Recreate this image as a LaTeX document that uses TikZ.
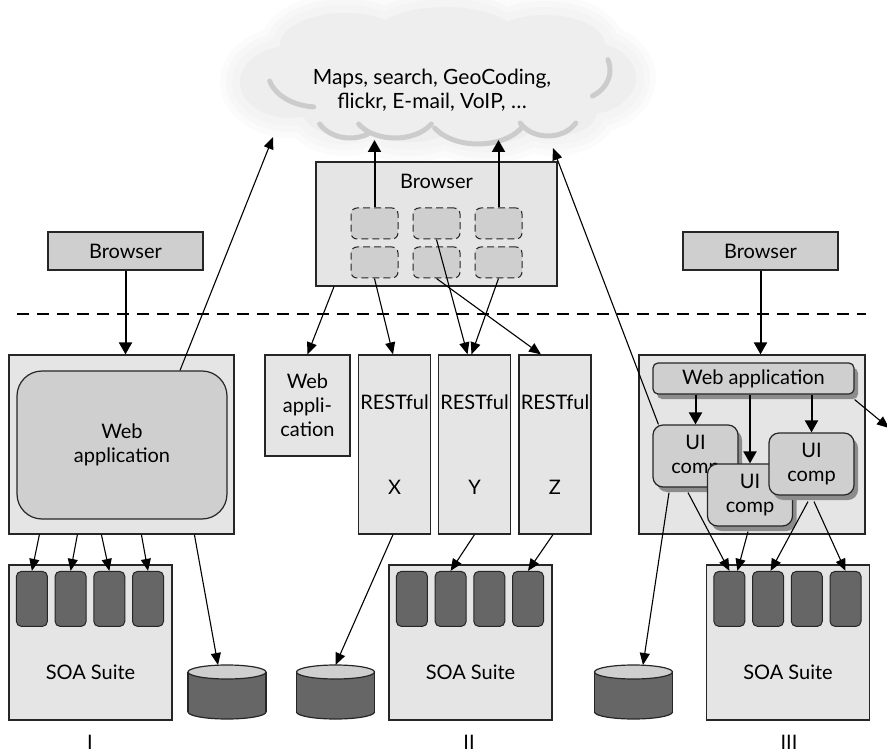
\documentclass[tikz,border=0pt]{standalone}
\usepackage{fontspec}
\setmainfont{Lato}
\usetikzlibrary{arrows.meta,shadows,calc}

\definecolor{paneGray}{gray}{0.9}
\definecolor{boxGray}{gray}{0.81}
\definecolor{darkGray}{gray}{0.4}
\definecolor{shadeGray}{gray}{0.55}
\definecolor{crescentGray}{gray}{0.8}

\tikzset{
  pane/.style={draw=black!85,fill=paneGray,line width=1.2pt,inner sep=0pt},
  box/.style={draw=black!85,fill=boxGray,line width=1.2pt,inner sep=0pt},
  slot/.style={draw=black!85,fill=darkGray,rounded corners=5pt,line width=1pt,minimum width=31pt,minimum height=55pt,inner sep=0pt},
  widget/.style={draw=black!85,fill=boxGray,rounded corners=6pt,line width=1pt,dash pattern=on 7pt off 4pt,minimum width=47pt,minimum height=31pt,inner sep=0pt},
  uicomp/.style={box,rounded corners=10pt,minimum width=85pt,minimum height=62pt,align=center,drop shadow={shadow xshift=4pt,shadow yshift=-5pt,fill=shadeGray,opacity=1}},
  link/.style={line width=1.1pt,-{Triangle[length=12pt,width=10pt]}},
  flow/.style={line width=2pt,-{Triangle[length=12pt,width=13pt]}},
}

\def\lobes{437/80/175/50,290/82/50/36,588/78/48/36,345/45/65/32,445/35/70/28,545/45/60/30,345/112/42/24,410/118/50/24,485/118/55/26,555/112/42/24}

\begin{document}
\begin{tikzpicture}[x=1pt,y=-1pt,font=\fontsize{20}{24}\selectfont]
  \useasboundingbox (0,0) rectangle (887,754);

  % cloud
  \foreach \grow/\tone in {20/1.5,14/3,8/4.5,0/6.5}{
    \foreach \cx/\cy/\rx/\ry in \lobes{
      \fill[black!\tone] (\cx,\cy) ellipse [x radius=\rx+\grow,y radius=\ry+\grow];
    }
  }
  \foreach \cx/\cy/\rx/\ry/\a/\b in {318/72/50/35/95/165,350/110/35/28/60/150,395/110/42/28/30/150,478/112/50/32/30/150,548/110/32/26/30/150,575/70/35/30/-20/60}{
    \draw[crescentGray,line width=5pt,line cap=round] plot[domain=\a:\b,samples=20,smooth] ({\cx+\rx*cos(\x)},{\cy+\ry*sin(\x)});
  }
  \node[font=\fontsize{21}{24}\selectfont,align=center] (net) at (432,90) {Maps, search, GeoCoding,\\flickr, E-mail, VoIP, …};
  \coordinate (inA) at ([shift={(-159,47)}]net.center);
  \coordinate (inB) at ([shift={(-58,50)}]net.center);
  \coordinate (inD) at ([shift={(121,58)}]net.center);
  \coordinate (offR) at (889,428);

  \draw[line width=1.2pt,dash pattern=on 12pt off 8pt] (17,314) -- (866,314);

  % browsers
  \node[box,minimum width=155pt,minimum height=38pt] (browserI) at (125.5,251) {Browser};
  \node[box,minimum width=155pt,minimum height=38pt] (browserIII) at (760.5,251) {Browser};
  \node[pane,minimum width=241pt,minimum height=124pt] (browserII) at (436.5,224) {};
  \node (browserIItext) at ([yshift=-20pt]browserII.north) {Browser};
  \foreach \c/\x in {1/374.5,2/436.5,3/498.5}{
    \foreach \r/\y in {1/223.5,2/262.5}{
      \node[widget] (w\c\r) at (\x,\y) {};
    }
  }

  % I
  \node[pane,minimum width=225pt,minimum height=179pt] (paneI) at (121.5,444.5) {};
  \node[box,rounded corners=25pt,minimum width=210pt,minimum height=148pt,align=center] (webI) at (122,445) {Web\\application};

  % II
  \node[pane,minimum width=85pt,minimum height=101pt,align=center] (webII) at (307.5,405.5) {Web\\appli-\\cation};
  \foreach \n/\x in {X/394.5,Y/474.5,Z/555}{
    \node[pane,minimum width=72pt,minimum height=179pt,align=center] (rest\n) at (\x,444.5) {RESTful\\[61pt]\n};
  }

  % III
  \node[pane,minimum width=226pt,minimum height=179pt] (paneIII) at (752,444.5) {};
  \node[box,rounded corners=5pt,minimum width=201pt,minimum height=31pt,drop shadow={shadow xshift=4pt,shadow yshift=-5pt,fill=shadeGray,opacity=1}] (webIII) at (753.5,378.5) {Web application};
  \node[uicomp] (ui1) at (695.5,456) {UI\\comp};
  \node[uicomp] (ui2) at (750,495) {UI\\comp};
  \node[uicomp] (ui3) at (811.5,464) {UI\\comp};

  % back ends
  \foreach \s/\x/\t in {I/90.5/90,II/470.5/469,III/788/789}{
    \node[pane,minimum width=163pt,minimum height=155pt] (soa\s) at (\x,642.5) {};
    \node (soa\s text) at ([yshift=-30pt]soa\s.center) {SOA Suite};
    \foreach \k in {1,...,4}{
      \node[slot] (slot\s\k) at ($(soa\s.north west)+({23.5+38.7*(\k-1)},34.5)$) {};
    }
    \node[inner sep=0pt] (tag\s) at (\t,742) {\s};
  }
  \foreach \d/\x in {I/227,II/335.5,III/633.5}{
    \draw[line width=1.2pt,draw=black!85,fill=darkGray] (\x,712) ellipse [x radius=39,y radius=7];
    \fill[darkGray] (\x-39,672) rectangle (\x+39,712);
    \draw[line width=1.2pt,draw=black!85] (\x-39,672) -- (\x-39,712) (\x+39,672) -- (\x+39,712);
    \draw[line width=1.2pt,draw=black!85,fill=boxGray] (\x,672) ellipse [x radius=39,y radius=7];
    \coordinate (db\d) at (\x,665);
  }

  % connectors
  \draw[flow] (browserI.south) -- (browserI.south |- paneI.north);
  \draw[flow] (browserIII.south) -- (browserIII.south |- paneIII.north);
  \draw[flow] (w11.north) -- (w11.north |- inB);
  \draw[flow] (w31.north) -- (w31.north |- inB);
  \draw[link] ([xshift=58pt]webI.north) -- (inA);
  \draw[link] ([xshift=6pt]ui1.north west) -- (inD);

  \foreach \a/\k in {31/1,69/2,93/3,133/4}{
    \draw[link] ([xshift=\a pt]paneI.south west) -- (slotI\k.north);
  }
  \draw[link] ([xshift=186pt]paneI.south west) -- ([xshift=-9pt]dbI);

  \draw[link] ([xshift=-102.5pt]browserII.south) -- (webII.north);
  \draw[link] (w12.south) -- ([xshift=-1.5pt]restX.north);
  \draw[link] (w21.south) -- ([xshift=-7pt]restY.north);
  \draw[link] (w32.south) -- ([xshift=-3pt]restY.north);
  \draw[link] (w22.south) -- ([xshift=-14pt]restZ.north);
  \draw[link] ([xshift=-1.5pt]restX.south) -- (dbII);
  \draw[link] (restY.south) -- (slotII2.north);
  \draw[link] ([xshift=-2pt]restZ.south) -- (slotII4.north);

  \draw[flow] (ui1.north |- webIII.south) -- (ui1.north);
  \draw[flow] (ui2.north |- webIII.south) -- (ui2.north);
  \draw[flow] (ui3.north |- webIII.south) -- (ui3.north);
  \draw[link] ([yshift=-5pt]webIII.south east) -- (offR);
  \draw[link] ([xshift=-26.5pt,yshift=-5pt]ui1.south) -- ([xshift=9.5pt]dbIII);
  \draw[link] ([xshift=-7.5pt,yshift=-5pt]ui1.south) -- (slotIII1.north);
  \draw[link] ([xshift=-2pt,yshift=-5pt]ui2.south) -- ([xshift=8pt]slotIII1.north);
  \draw[link] ([xshift=-3.5pt,yshift=-6pt]ui3.south) -- ([xshift=2.5pt]slotIII2.north);
  \draw[link] ([xshift=2.5pt,yshift=-6pt]ui3.south) -- (slotIII4.north);
\end{tikzpicture}
\end{document}
